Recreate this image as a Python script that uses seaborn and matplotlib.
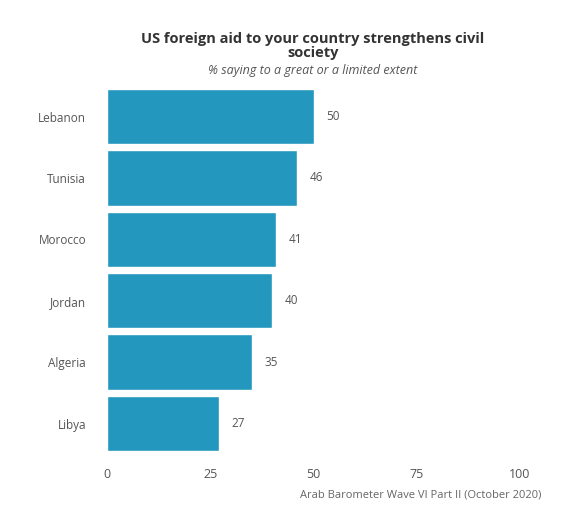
import matplotlib
matplotlib.use("Agg")
import matplotlib.pyplot as plt
import seaborn as sns
import pandas as pd

countries = ["Lebanon", "Tunisia", "Morocco", "Jordan", "Algeria", "Libya"]
values = [50, 46, 41, 40, 35, 27]
x_ticks = [0, 25, 50, 75, 100]

df = pd.DataFrame({"country": countries, "value": values})

sns.set_theme(style="white")
plt.rcParams['font.family'] = ['Open Sans', 'DejaVu Sans']

fig = plt.figure(figsize=(5.76, 5.32), dpi=100)
ax = fig.add_axes([0.1858, 0.1462, 0.717, 0.6925])

sns.barplot(data=df, x="value", y="country", color="#2497be", width=0.9,
            saturation=1, ax=ax)

for i, v in enumerate(values):
    ax.text(v + 4.7, i, str(v), va="center", ha="center", fontsize=8.5, color="#555555")

ax.set_xlim(0, 100)
ax.set_xticks(x_ticks)
ax.set_xticklabels([str(t) for t in x_ticks], fontsize=9, color="#555555")
ax.tick_params(axis="y", labelsize=8.5, labelcolor="#555555", length=0, pad=15)
ax.tick_params(axis="x", length=0, pad=10)
ax.set_xlabel("")
ax.set_ylabel("")
sns.despine(ax=ax, left=True, bottom=True)

fig.text(0.543, 0.914, "US foreign aid to your country strengthens civil\nsociety",
         ha="center", va="center", fontsize=10.5, fontweight="bold", color="#333333",
         linespacing=1.0)
fig.text(0.543, 0.868, "% saying to a great or a limited extent", ha="center", va="center",
         fontsize=9, style="italic", color="#555555")
fig.text(0.94, 0.069, "Arab Barometer Wave VI Part II (October 2020)", ha="right",
         va="center", fontsize=8, color="#666666")

fig.savefig("out.png", dpi=100)
